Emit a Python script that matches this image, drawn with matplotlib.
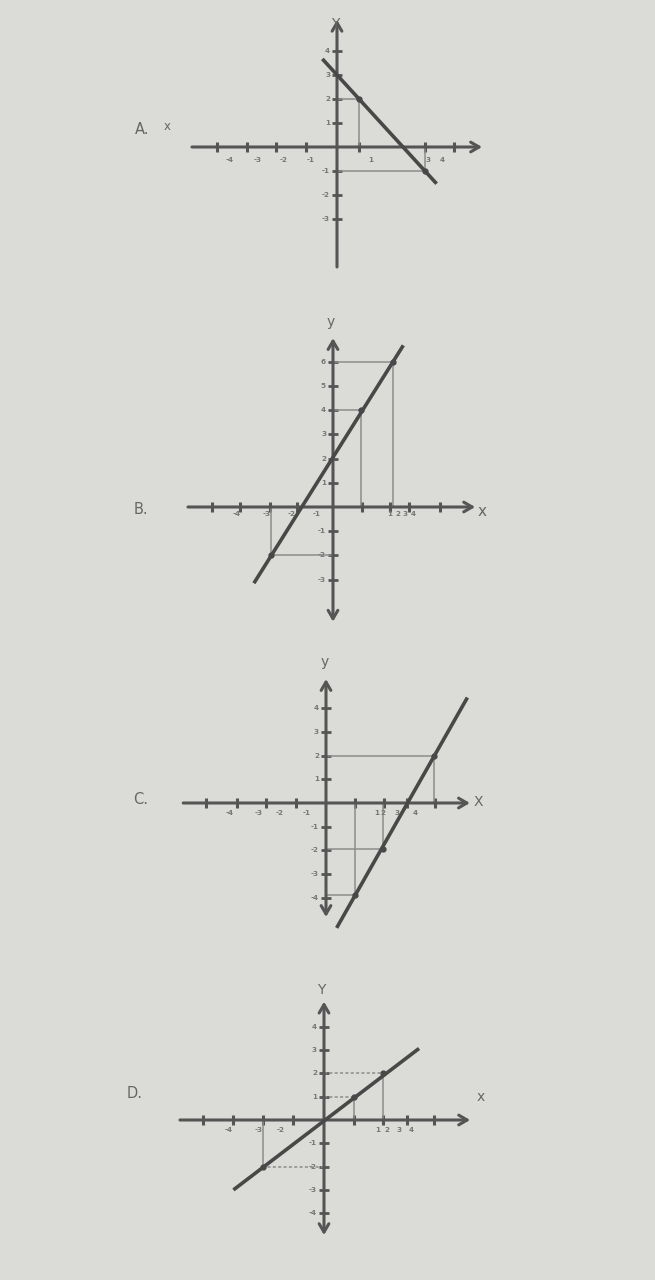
import matplotlib
matplotlib.use("Agg")
import matplotlib.pyplot as plt

W, H = 655, 1280
BG = "#dbdbd7"
AXIS_C = "#555555"
LINE_C = "#484848"
GUIDE_C = "#8c8c8c"
TEXT_C = "#666666"

# ---- graph A : decreasing line
a_xticks = [-4.1, -3.07, -2.08, -1.06, 0.75, 3, 4]
a_xlabels = ["-4", "-3", "-2", "-1", "1", "3", "4"]
a_xlabel_pos = [-3.65, -2.72, -1.81, -0.89, 1.16, 3.1, 3.6]
a_yticks = [-3, -2, -1, 1, 2, 3, 4]
a_line_x = [-0.5, 3.4]
a_line_y = [3.67, -1.53]
a_pts_x = [0.75, 3]
a_pts_y = [2, -1]

# ---- graph B
b_xticks = [-4.14, -3.17, -2.15, -1.24, 0.98, 1.95, 2.6, 3.65]
b_xlabels = ["-4", "-3", "-2", "-1", "1", "2", "3", "4"]
b_xlabel_pos = [-3.3, -2.25, -1.4, -0.55, 1.95, 2.2, 2.45, 2.75]
b_yticks = [-3, -2, -1, 1, 2, 3, 4, 5, 6]
b_line_x = [-2.7, 2.4]
b_line_y = [-3.15, 6.68]
b_pts_x = [-2.1, 0.97, 2.05]
b_pts_y = [-2, 4, 6]

# ---- graph C
c_xticks = [-4.3, -3.19, -2.14, -1.07, 1.04, 2.07, 2.9, 3.9]
c_xlabels = ["-4", "-3", "-2", "-1", "1", "2", "3", "4"]
c_xlabel_pos = [-3.43, -2.4, -1.67, -0.69, 1.8, 2.04, 2.52, 3.18]
c_yticks = [-4, -3, -2, -1, 1, 2, 3, 4]
c_line_x = [0.38, 5.05]
c_line_y = [-5.27, 4.45]
c_pts_x = [1.04, 2.05, 3.87]
c_pts_y = [-3.9, -1.95, 2]

# ---- graph D
d_xticks = [-4.06, -3.05, -2.06, -1.03, 1.01, 1.99, 2.81, 3.7]
d_xlabels = ["-4", "-3", "-2", "1", "2", "3", "4"]
d_xlabel_pos = [-3.2, -2.19, -1.46, 1.8, 2.13, 2.53, 2.92]
d_yticks = [-4, -3, -2, -1, 1, 2, 3, 4]
d_line_x = [-3.05, 3.2]
d_line_y = [-3.0, 3.07]
d_pts_x = [-2.04, 1.0, 2.0]
d_pts_y = [-2, 1, 2]


def place_axes(fig, origin, scale, xlim, ylim):
    ox, oy = origin
    sx, sy = scale
    left = (ox + xlim[0] * sx) / W
    width = (xlim[1] - xlim[0]) * sx / W
    bottom = 1 - (oy - ylim[0] * sy) / H
    height = (ylim[1] - ylim[0]) * sy / H
    ax = fig.add_axes([left, bottom, width, height])
    ax.set_xlim(xlim)
    ax.set_ylim(ylim)
    ax.axis("off")
    ax.patch.set_alpha(0)
    return ax


def draw_graph(ax, xlim, ylim, xticks, xlabels, xlabel_pos, yticks,
               line_x, line_y, pts_x, pts_y, both_y=True, dotted=False,
               xlab_off=-11):
    head = "->, head_length=0.6, head_width=0.35"
    ax.annotate("", xy=(xlim[1], 0), xytext=(xlim[0], 0),
                arrowprops=dict(arrowstyle=head, color=AXIS_C, lw=2.2,
                                shrinkA=0, shrinkB=0), annotation_clip=False)
    ystyle = head.replace("->", "<->") if both_y else head
    ax.annotate("", xy=(0, ylim[1]), xytext=(0, ylim[0]),
                arrowprops=dict(arrowstyle=ystyle, color=AXIS_C, lw=2.2,
                                shrinkA=0, shrinkB=0), annotation_clip=False)
    # ticks
    ax.plot(xticks, [0] * len(xticks), ls="none", marker="|", ms=6.5,
            mew=2.2, color=AXIS_C, clip_on=False)
    ax.plot([0] * len(yticks), yticks, ls="none", marker="_", ms=7,
            mew=2, color=AXIS_C, clip_on=False)
    for lab, xp in zip(xlabels, xlabel_pos):
        ax.annotate(lab, (xp, 0), xytext=(0, xlab_off), textcoords="offset pixels",
                    ha="center", va="center", fontsize=5.2, color="#777777",
                    fontweight="bold")
    for yt in yticks:
        ax.annotate(str(yt), (0, yt), xytext=(-7, 0), textcoords="offset pixels",
                    ha="right", va="center", fontsize=5.2, color="#777777",
                    fontweight="bold")
    # guide lines
    hls = (0, (2, 1.5)) if dotted else "-"
    for px, py in zip(pts_x, pts_y):
        ax.plot([0, px], [py, py], color=GUIDE_C, lw=1.1, ls=hls, clip_on=False)
        ax.plot([px, px], [0, py], color=GUIDE_C, lw=1.1, clip_on=False)
    # main line
    ax.plot(line_x, line_y, color=LINE_C, lw=2.6, solid_capstyle="butt",
            clip_on=False, zorder=4)
    ax.plot(pts_x, pts_y, ls="none", marker="o", ms=3.5, color=LINE_C,
            clip_on=False, zorder=5)


fig = plt.figure(figsize=(W / 100, H / 100), dpi=100, facecolor=BG)

# A
xa, ya = (-4.95, 4.95), (-5.0, 5.3)
axA = place_axes(fig, (337, 147), (29.3, 24), xa, ya)
draw_graph(axA, xa, ya, a_xticks, a_xlabels, a_xlabel_pos, a_yticks,
           a_line_x, a_line_y, a_pts_x, a_pts_y, both_y=False, xlab_off=-13)

# B
xb, yb = (-4.95, 4.85), (-4.74, 6.98)
axB = place_axes(fig, (333, 507), (29.3, 24.2), xb, yb)
draw_graph(axB, xb, yb, b_xticks, b_xlabels, b_xlabel_pos, b_yticks,
           b_line_x, b_line_y, b_pts_x, b_pts_y, xlab_off=-7)

# C
xc, yc = (-5.1, 5.14), (-4.81, 5.23)
axC = place_axes(fig, (326, 803), (28, 23.7), xc, yc)
draw_graph(axC, xc, yc, c_xticks, c_xlabels, c_xlabel_pos, c_yticks,
           c_line_x, c_line_y, c_pts_x, c_pts_y, xlab_off=-10)

# D
xd, yd = (-4.85, 4.92), (-4.94, 5.08)
axD = place_axes(fig, (324, 1120), (29.7, 23.3), xd, yd)
draw_graph(axD, xd, yd, d_xticks, d_xlabels, d_xlabel_pos, d_yticks,
           d_line_x, d_line_y, d_pts_x, d_pts_y, dotted=True, xlab_off=-10)


# letters and axis names (pixel placement)
def ftext(px, py, s, size=10, **kw):
    fig.text(px / W, 1 - py / H, s, fontsize=size, color=TEXT_C,
             ha="left", va="center", family="DejaVu Sans", **kw)


ftext(135, 129, "A.", 10.5)
ftext(164, 126, "x", 8.5)
ftext(134, 509, "B.", 10.5)
ftext(133, 800, "C.", 10.5)
ftext(127, 1093, "D.", 10.5)

ftext(331, 24, "Y", 10)
ftext(327, 322, "y", 10)
ftext(478, 511, "x", 11)
ftext(321, 662, "y", 10)
ftext(474, 802, "X", 10)
ftext(317, 990, "Y", 10)
ftext(477, 1097, "x", 10)

fig.savefig("out.png", dpi=100, facecolor=BG)
